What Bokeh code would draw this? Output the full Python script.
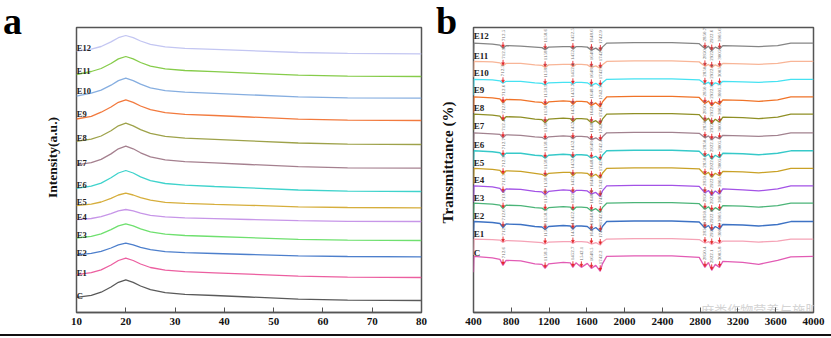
import numpy as np
from bokeh.plotting import figure
from bokeh.models import FixedTicker, Div
from bokeh.layouts import row, column
from bokeh.embed import file_html
from bokeh.resources import INLINE
from bokeh.core.properties import value

SERIF = "Liberation Serif"

names = ["C", "E1", "E2", "E3", "E4", "E5", "E6", "E7", "E8", "E9", "E10", "E11", "E12"]

# ---------------- panel a : XRD (intensity, a.u., already stacked) ----------------
two_theta = [10, 13, 15, 17, 18.5, 20, 21.5, 23, 25, 28, 32, 38, 45, 55, 65, 80]
xrd_C   = [15.1, 17.2, 20.3, 25.5, 30.2, 32.7, 30.2, 26.5, 22.8, 19.9, 18.2, 17.0, 15.5, 13.4, 12.4, 12.0]
xrd_E1  = [37.9, 39.8, 42.7, 47.5, 52.0, 54.3, 52.0, 48.5, 45.0, 42.3, 40.8, 39.6, 38.3, 36.4, 35.4, 35.0]
xrd_E2  = [57.7, 59.1, 61.1, 64.5, 67.7, 69.3, 67.7, 65.2, 62.8, 60.9, 59.8, 59.0, 58.0, 56.7, 56.0, 55.7]
xrd_E3  = [74.5, 76.2, 78.7, 82.9, 86.7, 88.7, 86.7, 83.7, 80.7, 78.3, 77.0, 76.0, 74.8, 73.2, 72.3, 72.0]
xrd_E4  = [92.8, 94.0, 95.8, 98.8, 101.6, 103.0, 101.6, 99.4, 97.2, 95.6, 94.6, 93.9, 93.0, 91.8, 91.2, 91.0]
xrd_E5  = [106.9, 108.4, 110.5, 114.2, 117.5, 119.3, 117.5, 114.9, 112.3, 110.2, 109.1, 108.2, 107.2, 105.7, 105.0, 104.7]
xrd_E6  = [124.2, 126.3, 129.4, 134.7, 139.5, 142.0, 139.5, 135.7, 131.9, 129.0, 127.3, 126.0, 124.6, 122.5, 121.4, 121.0]
xrd_E7  = [147.6, 149.8, 153.1, 158.6, 163.7, 166.3, 163.7, 159.7, 155.7, 152.7, 150.9, 149.6, 148.0, 145.8, 144.7, 144.3]
xrd_E8  = [171.2, 173.3, 176.5, 181.8, 186.7, 189.3, 186.7, 182.9, 179.1, 176.1, 174.4, 173.1, 171.6, 169.5, 168.4, 168.0]
xrd_E9  = [193.5, 196.2, 200.3, 205.5, 210.2, 212.7, 210.2, 206.5, 202.8, 199.9, 198.2, 197.0, 195.5, 193.4, 192.4, 192.0]
xrd_E10 = [216.3, 219.3, 222.3, 227.3, 231.9, 234.3, 231.9, 228.3, 224.7, 221.9, 220.3, 219.1, 217.7, 215.7, 214.7, 214.3]
xrd_E11 = [238.0, 241.0, 244.0, 249.0, 253.6, 256.0, 253.6, 250.0, 246.4, 243.6, 242.0, 240.8, 239.4, 237.4, 236.4, 236.0]
xrd_E12 = [261.4, 263.3, 266.0, 270.6, 274.8, 277.0, 274.8, 271.5, 268.2, 265.7, 264.2, 263.1, 261.8, 260.0, 259.1, 258.7]
xrd_series = [xrd_C, xrd_E1, xrd_E2, xrd_E3, xrd_E4, xrd_E5, xrd_E6, xrd_E7, xrd_E8, xrd_E9, xrd_E10, xrd_E11, xrd_E12]
xrd_label_y = [17, 40, 60, 78, 96, 110.3, 128, 150, 175, 198.7, 221.3, 242, 264.7]
xrd_colors = ["#5a5a5a", "#ec5fa0", "#4d7fcc", "#6fe06f", "#c796e8", "#d6ae3c", "#3fd3cc",
              "#a5808f", "#9ea24a", "#f27a3e", "#86aee0", "#86cc4a", "#c3c6f2"]
xrd_ticks = [10, 20, 30, 40, 50, 60, 70, 80]

# ---------------- panel b : FTIR (relative transmittance + stacking offset) ----------------
wavenumber = [400, 405, 600, 680, 712, 745, 900, 1050, 1125, 1158, 1195, 1350, 1425, 1452, 1485, 1542,
              1605, 1648, 1695, 1742, 1765, 1810, 2100, 2500, 2790, 2850, 2888, 2922, 2960, 3005,
              3040, 3250, 3420, 3620, 3760, 4000]
ftir_C   = [-16, 0, -1.5, -3, -9, -4, -4.5, -7.5, -8, -12, -7.5, -6, -6.5, -11, -6.5, -11, -7, -12, -9, -15, -7.5, 0, 0.5, 0.5, -1, -11, -6, -14, -8, -11, -5, -6, -8, -4, -0.5, 0]
ftir_E1  = [-16, 0, -0.5, -1, -3.5, -1.5, -2, -3, -3.5, -5, -3, -2.5, -2.5, -4.5, -2.5, -2.5, -3, -5, -3.5, -6, -3, 0, 0.5, 0.5, -0.5, -4, -2.5, -5.5, -3, -4.5, -2, -2, -3, -2, 0, 0]
ftir_E2  = [-16, 0, -1, -2, -6, -2.5, -3, -5, -5.5, -8, -5, -4, -4.5, -7.5, -4.5, -4.5, -5, -8.5, -6, -10, -5, 0, 0.5, 0.5, -0.5, -6.5, -4, -9, -5, -7.5, -3, -3.5, -4.5, -3, 0, 0]
ftir_E3  = [-16, 0, -1, -2, -5.5, -2, -2.5, -4.5, -5, -7, -4.5, -3.5, -4, -7, -4, -4, -4.5, -7.5, -5.5, -9, -4.5, 0, 0.5, 0.5, -0.5, -6, -3.5, -8, -4.5, -7, -2.5, -3, -4, -2.5, 0, 0]
ftir_E4  = [-16, 0, -1, -2.5, -6.5, -3, -3.5, -5.5, -6, -8.5, -5.5, -4, -4.5, -7, -4.5, -4.5, -5, -8, -6.5, -10.5, -5, 0, 0.5, 0.5, -0.5, -7, -4.5, -9.5, -5, -8, -3, -4, -5, -3, 0, 0]
ftir_E5  = [-16, 0, -1, -2, -6, -2.5, -3, -5, -6, -8, -5, -4, -4, -7.5, -4.5, -4.5, -5, -8.5, -6, -10, -5, 0, 0.5, 0.5, -0.5, -6.5, -4, -9, -5, -7.5, -3, -3.5, -4.5, -3, 0, 0]
ftir_E6  = [-16, 0, -1, -2, -5.5, -2.5, -2.5, -4.5, -5, -7.5, -4.5, -3.5, -4, -7, -4, -4, -4.5, -7.5, -5.5, -9.5, -4.5, 0, 0.5, 0.5, -0.5, -6, -3.5, -8.5, -4.5, -7, -2.5, -3, -4, -2.5, 0, 0]
ftir_E7  = [-16, 0, -1, -1.5, -5, -2, -2.5, -4, -4.5, -6.5, -4, -3, -3.5, -6, -3.5, -3.5, -4, -7, -5, -8, -4, 0, 0.5, 0.5, -0.5, -5, -3, -7, -4, -6, -2.5, -3, -3.5, -2.5, 0, 0]
ftir_E8  = [-16, 0, -1, -2, -6.5, -2.5, -3, -5, -5.5, -8.5, -5, -4, -4.5, -7.5, -4.5, -4.5, -5, -8.5, -6.5, -10, -5, 0, 0.5, 0.5, -0.5, -7, -4, -9.5, -5, -8, -3, -3.5, -4.5, -3, 0, 0]
ftir_E9  = [-16, 0, -1, -2, -6, -2.5, -3, -5, -5.5, -8, -5, -4, -4.5, -7.5, -4.5, -4.5, -5, -8.5, -6, -10, -5, 0, 0.5, 0.5, -0.5, -6.5, -4, -9, -5, -7.5, -3, -3.5, -4.5, -3, 0, 0]
ftir_E10 = [-16, 0, -0.5, -1.5, -4, -2, -2, -3.5, -4, -5.5, -3.5, -3, -3, -5, -3, -3, -3.5, -6, -4, -7, -3.5, 0, 0.5, 0.5, -0.5, -4.5, -3, -6.5, -3.5, -5, -2, -2.5, -3, -2, 0, 0]
ftir_E11 = [-16, 0, -0.5, -1.5, -4.5, -2, -2, -3.5, -4, -6, -3.5, -3, -3, -5.5, -3, -3, -3.5, -6, -4.5, -7, -3.5, 0, 0.5, 0.5, -0.5, -5, -3, -6.5, -3.5, -5.5, -2, -2.5, -3, -2, 0, 0]
ftir_E12 = [-16, 0, -1, -2, -5, -2.5, -3, -4, -4.5, -6.5, -4, -3.5, -3.5, -6, -3.5, -3.5, -4, -7, -5, -8, -4, 0, 0.5, 0.5, -0.5, -5.5, -3, -7.5, -4, -6, -2.5, -3, -3.5, -2.5, 0, 0]
ftir_series = [ftir_C, ftir_E1, ftir_E2, ftir_E3, ftir_E4, ftir_E5, ftir_E6, ftir_E7, ftir_E8, ftir_E9, ftir_E10, ftir_E11, ftir_E12]
ftir_offset = [56.3, 73.7, 91.3, 109.7, 127, 144.7, 162.3, 180.3, 199, 216.3, 234, 252, 270.3]
ftir_label_y = [59.7, 79, 97.3, 115.3, 133, 150.3, 168, 187, 205.3, 223, 240.3, 257.3, 277.3]
ftir_colors = ["#e25bb4", "#f5a3b6", "#3d72c4", "#4bb478", "#a352e6", "#c9a126", "#36c9c9",
               "#a2828f", "#8f8f25", "#f07328", "#45e2f2", "#f8b597", "#858585"]
ftir_ticks = [400, 800, 1200, 1600, 2000, 2400, 2800, 3200, 3600, 4000]

peaks_C   = [712.6, 1158.3, 1452.7, 1542.1, 1648.5, 1742.2, 2850.4, 2922.1, 3005.8]
peaks_E1  = [712.8, 1158.6, 1452.4, 1648.4, 1742.3, 2850.8, 2922.5, 3005.2]
peaks_E2  = [712.6, 1158.2, 1452.1, 1648.0, 1742.9, 2850.3, 2922.0, 3005.6]
peaks_E3  = [713.0, 1158.8, 1452.5, 1648.6, 1742.6, 2850.7, 2922.4, 3005.9]
peaks_E4  = [712.5, 1158.4, 1452.2, 1648.2, 1742.2, 2850.5, 2922.2, 3005.3]
peaks_E5  = [712.9, 1158.5, 1452.6, 1648.5, 1742.7, 2850.9, 2922.6, 3005.8]
peaks_E6  = [712.7, 1158.3, 1452.3, 1648.1, 1742.4, 2850.4, 2922.3, 3005.4]
peaks_E7  = [712.4, 1158.7, 1452.8, 1648.7, 1742.8, 2850.6, 2922.7, 3005.1]
peaks_E8  = [712.8, 1158.1, 1452.0, 1648.3, 1742.1, 2850.2, 2922.1, 3005.7]
peaks_E9  = [712.6, 1158.9, 1452.7, 1648.8, 1742.5, 2850.8, 2922.9, 3005.5]
peaks_E10 = [712.3, 1158.5, 1452.4, 1648.0, 1742.6, 2850.5, 2922.4, 3005.2]
peaks_E11 = [712.9, 1158.2, 1452.1, 1648.4, 1742.3, 2850.3, 2922.2, 3005.9]
peaks_E12 = [712.5, 1158.6, 1452.5, 1648.6, 1742.9, 2850.7, 2922.6, 3005.6]
peak_lists = [peaks_C, peaks_E1, peaks_E2, peaks_E3, peaks_E4, peaks_E5, peaks_E6,
              peaks_E7, peaks_E8, peaks_E9, peaks_E10, peaks_E11, peaks_E12]

H = 334       # figure height (the black rule sits below)
TOP = 44      # height of the strip that carries the panel letter


def style_x_axis(p, ticks):
    p.xaxis.ticker = FixedTicker(ticks=ticks)
    p.xaxis.major_tick_in = 5
    p.xaxis.major_tick_out = 0
    p.xaxis.minor_tick_line_color = None
    p.xaxis.major_tick_line_color = "#555555"
    p.xaxis.axis_line_color = "#555555"
    p.xaxis.axis_line_width = 1.5
    p.xaxis.major_label_text_font = SERIF
    p.xaxis.major_label_text_font_style = "bold"
    p.xaxis.major_label_text_font_size = "11px"
    p.xaxis.major_label_text_color = "#111111"
    p.xaxis.major_label_standoff = 5


def letter_div(width, letter, left):
    html = ("<div style=\"font-family:'Liberation Serif',serif;font-weight:bold;"
            "font-size:38px;line-height:43px;margin:0;padding:0 0 0 %dpx;color:#000;\">%s</div>"
            % (left, letter))
    return Div(text=html, width=width, height=TOP, margin=(0, 0, 0, 0))


def ylabel_strip(width, ylabel, ylabel_x, ylabel_y, ysize):
    """A bare canvas (pixel coordinates) holding the y title."""
    h = H - TOP
    t = figure(width=width, height=h, x_range=(0, width), y_range=(0, h), title=None,
               x_axis_type=None, y_axis_type=None, output_backend="svg", toolbar_location=None,
               min_border=0, min_border_left=0, min_border_right=0,
               min_border_top=0, min_border_bottom=0)
    t.grid.visible = False
    t.outline_line_color = None
    t.text(x=[ylabel_x], y=[H - ylabel_y], text=[ylabel], angle=np.pi / 2,
           text_font=value(SERIF), text_font_style="bold", text_font_size=ysize,
           text_color="#111111", text_align="center", text_baseline="middle")
    return t


# ---------------- panel a ----------------
ta = column(letter_div(62, "a", 3), ylabel_strip(62, "Intensity(a.u.)", 52, 157, "13.5px"), spacing=0)

pa = figure(width=368, height=H, x_range=(10, 80), y_range=(0, 285), title=None,
            output_backend="svg", toolbar_location=None,
            min_border_left=14, min_border_right=9, min_border_top=27, min_border_bottom=22)
pa.grid.visible = False
pa.yaxis.visible = False
pa.outline_line_color = "#555555"
pa.outline_line_width = 1.5
style_x_axis(pa, xrd_ticks)

for ys, col in zip(xrd_series, xrd_colors):
    pa.line(two_theta, ys, line_color=col, line_width=1.3)

pa.text(x=[10.05] * len(names), y=xrd_label_y, text=names,
        text_font=value(SERIF), text_font_style="bold", text_font_size="8.5px",
        text_color="#222222", text_align="left", text_baseline="middle")

# ---------------- panel b ----------------
tb = column(letter_div(32, "b", 6), ylabel_strip(32, "Transmittance (%)", 17, 162, "15px"), spacing=0)

pb = figure(width=369, height=H, x_range=(400, 4000), y_range=(0, 286), title=None,
            output_backend="svg", toolbar_location=None,
            min_border_left=11, min_border_right=18, min_border_top=27, min_border_bottom=21)
pb.grid.visible = False
pb.yaxis.visible = False
pb.outline_line_color = "#555555"
pb.outline_line_width = 1.5
style_x_axis(pb, ftir_ticks)

pb.text(x=[3500], y=[3], text=["麻类作物营养与施肥网"], text_font=value("Noto Sans CJK SC"),
        text_font_size="13px", text_color="#d4d4d4", text_align="center",
        text_baseline="middle")

wn_arr = np.array(wavenumber, dtype=float)
ax, ay0, ay1, ty, tt = [], [], [], [], []
for rel, off, col, pk in zip(ftir_series, ftir_offset, ftir_colors, peak_lists):
    yv = np.array(rel, dtype=float) + off
    pb.line(wavenumber, yv, line_color=col, line_width=1.3)
    for w in pk:
        tip = float(np.interp(w, wn_arr, yv))
        ax.append(w)
        ay0.append(tip + 6.0)
        ay1.append(tip + 1.5)
        ty.append(tip + 7.0)
        tt.append(f"{w:.1f}")

pb.segment(x0=ax, y0=ay0, x1=ax, y1=ay1, line_color="#e3262b", line_width=0.9)
pb.scatter(x=ax, y=[v + 0.8 for v in ay1], marker="inverted_triangle", size=3,
           fill_color="#e3262b", line_color="#e3262b", line_width=0.5)
pb.text(x=ax, y=ty, text=tt, angle=np.pi / 2, text_font=value(SERIF),
        text_font_size="5px", text_color="#6a6a6a", text_align="left",
        text_baseline="middle")

pb.text(x=[402] * len(names), y=ftir_label_y, text=names,
        text_font=value(SERIF), text_font_style="bold", text_font_size="9px",
        text_color="#222222", text_align="left", text_baseline="middle")

bottom_line = Div(text="", width=831, height=2, margin=(0, 0, 0, 0),
                  styles={"background-color": "#111111"})

layout = column(row(ta, pa, tb, pb, spacing=0), bottom_line, spacing=0)

open("out.html", "w").write(file_html(layout, INLINE))
